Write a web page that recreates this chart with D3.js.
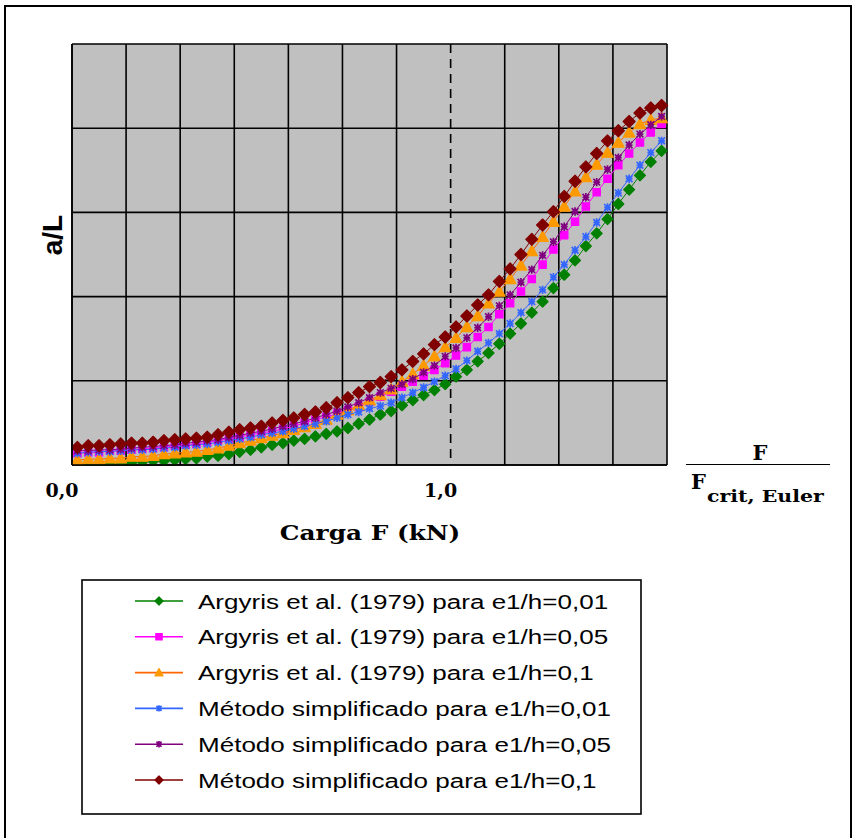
<!DOCTYPE html>
<html>
<head>
<meta charset="utf-8">
<script src="https://cdn.jsdelivr.net/npm/d3@7"></script>
<style>
  body { margin: 0; background: #fff; }
  svg { display: block; }
</style>
</head>
<body>
<div id="chart"></div>
<script>
// Load categories (kN), one point per category, Excel-style category axis
const categories = [1, 2, 3, 4, 5, 6, 7, 8, 9, 10, 11, 12, 13, 14, 15, 16, 17, 18, 19, 20,
    21, 22, 23, 24, 25, 26, 27, 28, 29, 30, 31, 32, 33, 34, 35, 36, 37, 38, 39, 40,
    41, 42, 43, 44, 45, 46, 47, 48, 49, 50, 51, 52, 53, 54, 55];
const fCritEuler = 35;
const xTickLabels = [{ f: 0, text: '0,0' }, { f: 35, text: '1,0' }];
const yGridValues = [0, 1, 2, 3, 4, 5];

// a/L values (relative units, 1 = one grid row)
const argyris001 = [0.00, 0.01, 0.01, 0.02, 0.02, 0.03, 0.04, 0.05, 0.05, 0.06,
    0.07, 0.08, 0.10, 0.11, 0.13, 0.155, 0.18, 0.21, 0.24, 0.26,
    0.29, 0.31, 0.34, 0.37, 0.40, 0.44, 0.49, 0.54, 0.60, 0.64,
    0.71, 0.77, 0.83, 0.89, 0.96, 1.05, 1.13, 1.23, 1.33, 1.44,
    1.56, 1.68, 1.81, 1.94, 2.10, 2.26, 2.43, 2.60, 2.75, 2.92,
    3.10, 3.27, 3.44, 3.60, 3.73];
const argyris005 = [0.14, 0.15, 0.15, 0.17, 0.17, 0.18, 0.19, 0.20, 0.21, 0.23,
    0.24, 0.25, 0.27, 0.29, 0.31, 0.33, 0.36, 0.38, 0.40, 0.43,
    0.46, 0.50, 0.54, 0.57, 0.61, 0.65, 0.69, 0.75, 0.81, 0.87,
    0.93, 0.99, 1.06, 1.13, 1.21, 1.30, 1.40, 1.52, 1.64, 1.79,
    1.92, 2.06, 2.21, 2.38, 2.56, 2.73, 2.89, 3.07, 3.24, 3.40,
    3.56, 3.70, 3.83, 3.95, 4.05];
const argyris01 = [0.06, 0.07, 0.07, 0.08, 0.08, 0.10, 0.10, 0.11, 0.13, 0.14,
    0.15, 0.16, 0.18, 0.20, 0.23, 0.26, 0.29, 0.32, 0.35, 0.38,
    0.42, 0.45, 0.49, 0.54, 0.60, 0.65, 0.71, 0.77, 0.83, 0.90,
    0.99, 1.08, 1.18, 1.29, 1.40, 1.51, 1.64, 1.77, 1.92, 2.06,
    2.21, 2.37, 2.54, 2.71, 2.89, 3.07, 3.25, 3.42, 3.57, 3.71,
    3.83, 3.95, 4.05, 4.10, 4.12];
const simplificado001 = [0.14, 0.15, 0.16, 0.16, 0.17, 0.18, 0.18, 0.19, 0.20, 0.21,
    0.23, 0.24, 0.25, 0.27, 0.29, 0.31, 0.33, 0.36, 0.38, 0.40,
    0.43, 0.46, 0.49, 0.52, 0.56, 0.60, 0.63, 0.67, 0.70, 0.74,
    0.80, 0.86, 0.92, 0.99, 1.06, 1.14, 1.24, 1.35, 1.45, 1.56,
    1.68, 1.81, 1.94, 2.08, 2.23, 2.38, 2.55, 2.71, 2.88, 3.06,
    3.23, 3.40, 3.56, 3.71, 3.85];
const simplificado005 = [0.17, 0.17, 0.18, 0.18, 0.19, 0.20, 0.21, 0.22, 0.23, 0.24,
    0.26, 0.27, 0.29, 0.30, 0.33, 0.35, 0.38, 0.40, 0.43, 0.46,
    0.49, 0.52, 0.56, 0.60, 0.64, 0.69, 0.74, 0.80, 0.86, 0.91,
    0.96, 1.02, 1.10, 1.18, 1.29, 1.39, 1.51, 1.63, 1.76, 1.89,
    2.02, 2.17, 2.32, 2.49, 2.65, 2.83, 3.01, 3.18, 3.36, 3.51,
    3.65, 3.80, 3.93, 4.04, 4.14];
const simplificado01 = [0.21, 0.23, 0.23, 0.24, 0.25, 0.26, 0.26, 0.27, 0.29, 0.30,
    0.31, 0.32, 0.33, 0.36, 0.39, 0.42, 0.44, 0.46, 0.50, 0.53,
    0.56, 0.60, 0.63, 0.68, 0.74, 0.80, 0.86, 0.93, 0.98, 1.05,
    1.13, 1.23, 1.32, 1.43, 1.52, 1.64, 1.77, 1.90, 2.02, 2.18,
    2.33, 2.50, 2.68, 2.85, 3.01, 3.19, 3.37, 3.54, 3.70, 3.85,
    3.97, 4.08, 4.18, 4.24, 4.27];

const seriesNames = [
    'Argyris et al. (1979) para e1/h=0,01',
    'Argyris et al. (1979) para e1/h=0,05',
    'Argyris et al. (1979) para e1/h=0,1',
    'Método simplificado para e1/h=0,01',
    'Método simplificado para e1/h=0,05',
    'Método simplificado para e1/h=0,1'
];
const seriesValues = [argyris001, argyris005, argyris01, simplificado001, simplificado005, simplificado01];
const seriesStyle = [
    { line: '#008000', fill: '#008000', marker: 'diamond' },
    { line: '#FF00FF', fill: '#FF00FF', marker: 'square' },
    { line: '#FF6600', fill: '#FF9900', marker: 'triangle' },
    { line: '#3366FF', fill: '#3366FF', marker: 'star' },
    { line: '#800080', fill: '#800080', marker: 'star' },
    { line: '#800000', fill: '#800000', marker: 'diamond' }
];

const width = 853, height = 838;
const plot = { left: 72, right: 667, top: 44, bottom: 465 };
// the original picture is a bit wider than its fonts, stretch text to match
const stretch = 1.24;

const svg = d3.select('#chart').append('svg')
    .attr('width', width)
    .attr('height', height);

// outer frame (bottom edge runs off the picture)
svg.append('path')
    .attr('d', `M5,${height} L5,6 L851,6 L851,${height}`)
    .attr('fill', 'none')
    .attr('stroke', '#000')
    .attr('stroke-width', 2);

const x = d3.scaleBand()
    .domain(categories)
    .range([plot.left, plot.right])
    .padding(0);
const xLoad = d3.scaleLinear()
    .domain([0, categories.length])
    .range([plot.left, plot.right]);
const y = d3.scaleLinear()
    .domain([0, 5])
    .range([plot.bottom, plot.top]);

// plot background
svg.append('rect')
    .attr('x', plot.left)
    .attr('y', plot.top)
    .attr('width', plot.right - plot.left)
    .attr('height', plot.bottom - plot.top)
    .attr('fill', '#C0C0C0');

// vertical grid every 5 categories, the one at F = F crit is dashed
const vGrid = d3.range(0, categories.length + 1, 5).filter(f => f !== fCritEuler);
svg.selectAll('.v-grid')
    .data(vGrid)
    .enter()
    .append('line')
    .attr('class', 'v-grid')
    .attr('x1', d => xLoad(d))
    .attr('x2', d => xLoad(d))
    .attr('y1', plot.top)
    .attr('y2', plot.bottom)
    .attr('stroke', '#000')
    .attr('stroke-width', 1.6);

svg.selectAll('.h-grid')
    .data(yGridValues)
    .enter()
    .append('line')
    .attr('class', 'h-grid')
    .attr('x1', plot.left)
    .attr('x2', plot.right)
    .attr('y1', d => y(d))
    .attr('y2', d => y(d))
    .attr('stroke', '#000')
    .attr('stroke-width', 1.6);

svg.append('line')
    .attr('x1', xLoad(fCritEuler))
    .attr('x2', xLoad(fCritEuler))
    .attr('y1', plot.top)
    .attr('y2', plot.bottom)
    .attr('stroke', '#000')
    .attr('stroke-width', 1.6)
    .attr('stroke-dasharray', '9,6');

// marker shapes
function markerPath(type, s) {
    if (type === 'diamond') return `M0,${-s} L${s},0 L0,${s} L${-s},0 Z`;
    if (type === 'square') return `M${-s * 0.8},${-s * 0.8} h${s * 1.6} v${s * 1.6} h${-s * 1.6} Z`;
    if (type === 'triangle') return `M0,${-s} L${s},${s * 0.8} L${-s},${s * 0.8} Z`;
    const a = s * 0.8;
    return `M0,${-s} L0,${s} M${-a},${-a} L${a},${a} M${-a},${a} L${a},${-a} M${-a},0 L${a},0`;
}

function drawMarker(g, style, s) {
    const p = g.append('path').attr('d', markerPath(style.marker, s));
    if (style.marker === 'star') {
        p.attr('fill', 'none').attr('stroke', style.fill).attr('stroke-width', 1.7);
    } else {
        p.attr('fill', style.fill).attr('stroke', style.fill)
            .attr('stroke-width', 1.2).attr('stroke-linejoin', 'round');
    }
}

svg.append('clipPath').attr('id', 'plot-clip')
    .append('rect')
    .attr('x', plot.left)
    .attr('y', plot.top - 10)
    .attr('width', plot.right - plot.left + 6)
    .attr('height', plot.bottom - plot.top + 10);

const line = d3.line()
    .x((d, i) => x(categories[i]) + x.bandwidth() / 2)
    .y(d => y(d));

const seriesLayer = svg.append('g').attr('clip-path', 'url(#plot-clip)');
const markerSize = [5.5, 4.6, 5.8, 4.2, 4.2, 6];

seriesValues.forEach((values, si) => {
    const style = seriesStyle[si];
    const g = seriesLayer.append('g').attr('class', 'series-' + si);
    g.append('path')
        .datum(values)
        .attr('d', line)
        .attr('fill', 'none')
        .attr('stroke', style.line)
        .attr('stroke-width', 1);
    values.forEach((v, i) => {
        const m = g.append('g')
            .attr('transform', `translate(${x(categories[i]) + x.bandwidth() / 2},${y(v)})`);
        drawMarker(m, style, markerSize[si]);
    });
});

// axis lines
svg.append('line')
    .attr('x1', plot.left).attr('x2', plot.left)
    .attr('y1', plot.top).attr('y2', plot.bottom)
    .attr('stroke', '#000').attr('stroke-width', 1.6);
svg.append('line')
    .attr('x1', plot.left).attr('x2', plot.right)
    .attr('y1', plot.bottom).attr('y2', plot.bottom)
    .attr('stroke', '#000').attr('stroke-width', 1.6);

const serif = "'DejaVu Serif', serif";
const sans = "'Liberation Sans', Arial, sans-serif";

// text placed at (tx, ty) and stretched horizontally
function stretchedText(tx, ty, anchor) {
    return svg.append('g')
        .attr('transform', `translate(${tx},${ty}) scale(${stretch},1)`)
        .append('text')
        .attr('text-anchor', anchor);
}

// x labels (F / F crit)
svg.selectAll('.x-label')
    .data(xTickLabels)
    .enter()
    .append('text')
    .attr('class', 'x-label')
    .attr('x', d => xLoad(d.f) - 10)
    .attr('y', 497)
    .attr('text-anchor', 'middle')
    .attr('font-family', serif)
    .attr('font-weight', 'bold')
    .attr('font-size', '19px')
    .text(d => d.text);

stretchedText(370, 540, 'middle')
    .attr('font-family', serif)
    .attr('font-weight', 'bold')
    .attr('font-size', '20px')
    .text('Carga F (kN)');

svg.append('text')
    .attr('transform', 'translate(62,235) rotate(-90)')
    .attr('text-anchor', 'middle')
    .attr('font-family', sans)
    .attr('font-weight', 'bold')
    .attr('font-size', '28px')
    .text('a/L');

// fraction F / F crit, Euler
svg.append('text')
    .attr('x', 760)
    .attr('y', 460)
    .attr('text-anchor', 'middle')
    .attr('font-family', serif)
    .attr('font-weight', 'bold')
    .attr('font-size', '21px')
    .text('F');
svg.append('line')
    .attr('x1', 686).attr('x2', 830)
    .attr('y1', 464.5).attr('y2', 464.5)
    .attr('stroke', '#000').attr('stroke-width', 1.2);
svg.append('text')
    .attr('x', 691)
    .attr('y', 489)
    .attr('font-family', serif)
    .attr('font-weight', 'bold')
    .attr('font-size', '21px')
    .text('F');
stretchedText(707, 502, 'start')
    .attr('font-family', serif)
    .attr('font-weight', 'bold')
    .attr('font-size', '16.5px')
    .text('crit, Euler');

// legend
const legend = { x: 82, y: 580, w: 559, h: 234, rowStart: 601, rowStep: 35.8 };
svg.append('rect')
    .attr('x', legend.x)
    .attr('y', legend.y)
    .attr('width', legend.w)
    .attr('height', legend.h)
    .attr('fill', '#fff')
    .attr('stroke', '#000')
    .attr('stroke-width', 1.6);

seriesNames.forEach((name, si) => {
    const style = seriesStyle[si];
    const cy = legend.rowStart + si * legend.rowStep;
    svg.append('line')
        .attr('x1', 135).attr('x2', 183)
        .attr('y1', cy).attr('y2', cy)
        .attr('stroke', style.line)
        .attr('stroke-width', 1.6);
    const m = svg.append('g').attr('transform', `translate(159,${cy})`);
    drawMarker(m, style, si === 3 || si === 4 ? 3.2 : 4);
    stretchedText(198, cy + 7.5, 'start')
        .attr('font-family', sans)
        .attr('font-size', '21px')
        .text(name);
});
</script>
</body>
</html>
